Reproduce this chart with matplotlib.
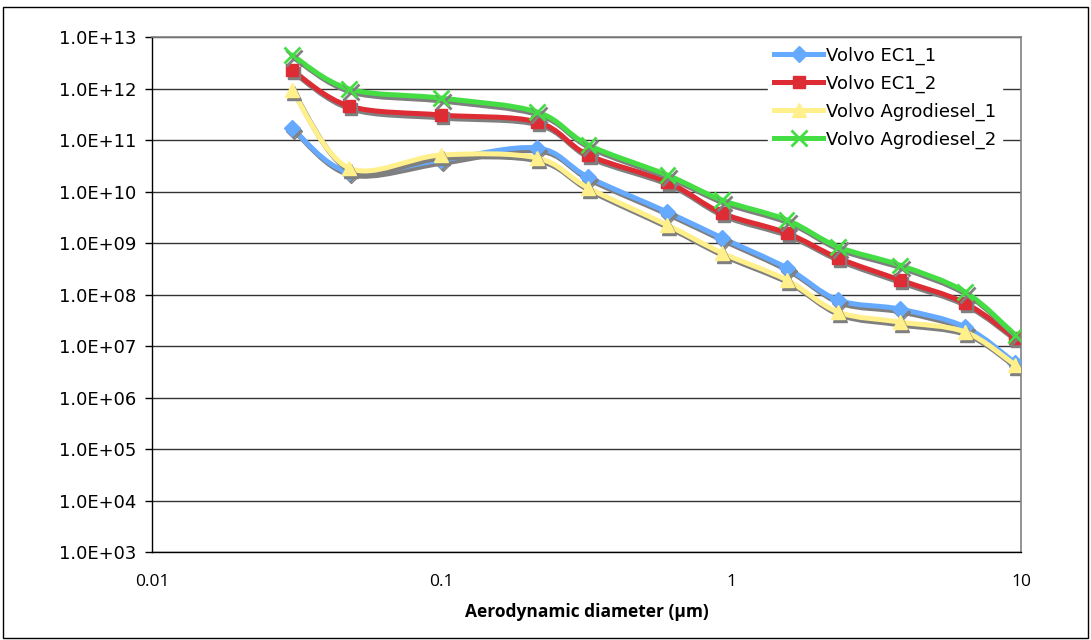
import matplotlib.pyplot as plt
import numpy as np
import matplotlib.patheffects as pe
from matplotlib.path import Path
from matplotlib.patches import PathPatch, Rectangle
from matplotlib.lines import Line2D
from matplotlib.ticker import FixedLocator, FuncFormatter, NullLocator

# Aerodynamic diameter (um) of each impactor stage
diameter = [0.0304, 0.0478, 0.0994, 0.213, 0.320, 0.599, 0.927, 1.55, 2.33, 3.81, 6.39, 9.51]

# particle numbers per series
ec1_1 = [1.71e11, 2.39e10, 4.09e10, 7.0e10, 1.9e10, 4.0e9, 1.25e9, 3.27e8, 7.8e7, 5.2e7, 2.34e7, 4.7e6]
ec1_2 = [2.29e12, 4.57e11, 3.06e11, 2.24e11, 5.1e10, 1.53e10, 3.8e9, 1.56e9, 5.1e8, 1.91e8, 6.8e7, 1.43e7]
agro_1 = [9.3e11, 2.86e10, 5.1e10, 4.47e10, 1.17e10, 2.24e9, 6.4e8, 1.91e8, 4.57e7, 2.92e7, 1.87e7, 4.28e6]
agro_2 = [4.47e12, 9.8e11, 6.5e11, 3.5e11, 8.0e10, 2.09e10, 6.8e9, 2.8e9, 8.4e8, 3.7e8, 1.12e8, 1.64e7]

labels = ["Volvo EC1_1", "Volvo EC1_2", "Volvo Agrodiesel_1", "Volvo Agrodiesel_2"]
series = [ec1_1, ec1_2, agro_1, agro_2]
colors = ["#66AAFF", "#DD2C33", "#FFF08C", "#44DD44"]
markers = ["D", "s", "^", "x"]
msizes = [8, 9, 10, 11]

x_ticks = [0.01, 0.1, 1, 10]
x_ticklabels = ["0.01", "0.1", "1", "10"]


def smooth_path(x, y):
    # Excel-like smoothed line: Catmull-Rom bezier in log-log space
    pts = np.column_stack([np.log10(x), np.log10(y)])
    n = len(pts)
    verts = [pts[0]]
    codes = [Path.MOVETO]
    for i in range(n - 1):
        p0 = pts[max(i - 1, 0)]
        p1 = pts[i]
        p2 = pts[i + 1]
        p3 = pts[min(i + 2, n - 1)]
        verts += [p1 + (p2 - p0) / 6, p2 - (p3 - p1) / 6, p2]
        codes += [Path.CURVE4] * 3
    return Path(10 ** np.array(verts), codes)


fig = plt.figure(figsize=(10.91, 6.40), dpi=100)
ax = fig.add_axes([152 / 1091, 1 - 552 / 640, (1021.5 - 152) / 1091, (552 - 37) / 640])

ax.set_xscale("log")
ax.set_yscale("log")
ax.set_xlim(0.01, 10)
ax.set_ylim(1e3, 1e13)

shadow_line = [pe.SimpleLineShadow(offset=(1.5, -2.2), shadow_color="#7f7f7f", alpha=1), pe.Normal()]
shadow_mark = [pe.SimplePatchShadow(offset=(1.5, -2.2), shadow_rgbFace="#7f7f7f", alpha=1),
               pe.SimpleLineShadow(offset=(1.5, -2.2), shadow_color="#7f7f7f", alpha=1), pe.Normal()]

handles = []
for i, (vals, lab, col, mk, ms) in enumerate(zip(series, labels, colors, markers, msizes)):
    patch = PathPatch(smooth_path(diameter, vals), fill=False, edgecolor=col, lw=3.6,
                      capstyle="round", joinstyle="round", zorder=3 + i)
    patch.set_path_effects(shadow_line)
    ax.add_patch(patch)
    ax.plot(diameter, vals, linestyle="none", marker=mk, ms=ms, color=col, mec=col,
            mew=2 if mk == "x" else 1, zorder=3 + i + 0.5, path_effects=shadow_mark)
    handles.append(Line2D([], [], color=col, lw=3.6, marker=mk, ms=ms, mec=col,
                          mew=2 if mk == "x" else 1))

# grid and axes styling
ax.yaxis.set_major_locator(FixedLocator([10.0 ** e for e in range(3, 14)]))
ax.yaxis.set_minor_locator(NullLocator())
ax.yaxis.set_major_formatter(FuncFormatter(lambda v, p: "1.0E+%02d" % round(np.log10(v))))
ax.xaxis.set_major_locator(FixedLocator(x_ticks))
ax.xaxis.set_minor_locator(NullLocator())
ax.set_xticklabels(x_ticklabels, fontsize=12.5, family="Open Sans")
for t in ax.get_yticklabels():
    t.set_fontsize(13)
    t.set_family("DejaVu Sans")
ax.tick_params(axis="y", direction="out", length=5, width=1, pad=6, colors="black")
ax.tick_params(axis="x", length=0, pad=16)
ax.grid(axis="y", color="#333333", lw=1)
ax.grid(axis="x", visible=False)
ax.set_axisbelow(True)
for s in ["top", "right"]:
    ax.spines[s].set_color("#808080")
    ax.spines[s].set_linewidth(1.2)
for s in ["left", "bottom"]:
    ax.spines[s].set_color("black")
    ax.spines[s].set_linewidth(1)

ax.set_xlabel("Aerodynamic diameter (µm)", fontsize=12.5, fontweight="bold", family="Open Sans", labelpad=9)

leg = ax.legend(handles, labels, loc="upper left", bbox_to_anchor=(768 / 1091, 1 - 40 / 640),
                bbox_transform=fig.transFigure, frameon=True, fancybox=False, framealpha=1,
                edgecolor="white", facecolor="white", fontsize=13, handlelength=2.7,
                handletextpad=0.15, labelspacing=0.54, borderpad=0.35, borderaxespad=0)
leg.set_zorder(20)

# outer chart border
fig.patches.append(Rectangle((3 / 1091, 2 / 640), 1085 / 1091, 631 / 640, transform=fig.transFigure,
                             fill=False, edgecolor="black", lw=1))

fig.savefig("out.png", dpi=100)
